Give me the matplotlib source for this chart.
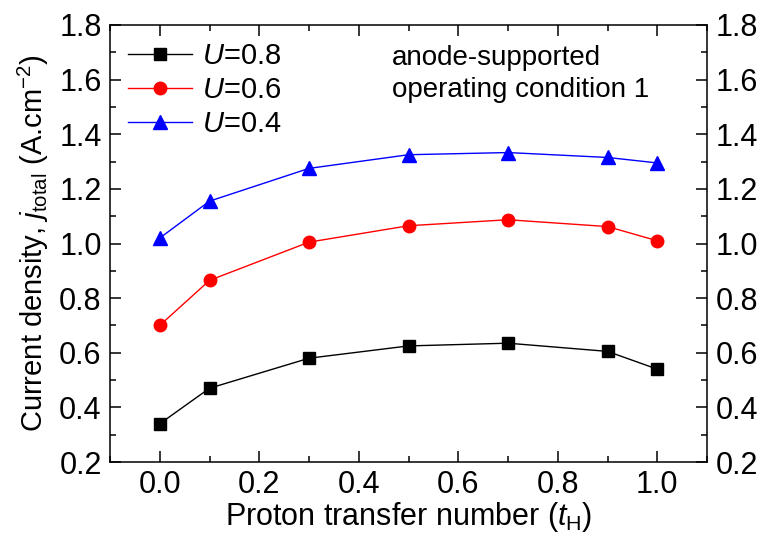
import matplotlib
matplotlib.use('Agg')
from matplotlib import pyplot as plt
from matplotlib.ticker import MultipleLocator

plt.rcParams['font.family'] = ['Liberation Sans', 'DejaVu Sans']
plt.rcParams['mathtext.fontset'] = 'custom'
plt.rcParams['mathtext.rm'] = 'Liberation Sans'
plt.rcParams['mathtext.it'] = 'Liberation Sans:italic'

t_h = [0.0, 0.1, 0.3, 0.5, 0.7, 0.9, 1.0]
u08 = [0.34, 0.47, 0.58, 0.625, 0.635, 0.605, 0.54]
u06 = [0.70, 0.865, 1.005, 1.065, 1.087, 1.062, 1.01]
u04 = [1.02, 1.155, 1.275, 1.325, 1.333, 1.315, 1.295]

fig = plt.figure(figsize=(7.6, 5.4), dpi=100)
ax = fig.add_axes([110 / 760, 1 - 462 / 540, 597 / 760, 437 / 540])

ax.plot(t_h, u08, '-s', color='black', lw=1, ms=8, label=r'$\mathit{U}$=0.8')
ax.plot(t_h, u06, '-o', color='red', lw=1, ms=9, label=r'$\mathit{U}$=0.6')
ax.plot(t_h, u04, '-^', color='blue', lw=1, ms=9.5, label=r'$\mathit{U}$=0.4')

ax.set_xlim(-0.1, 1.1)
ax.set_ylim(0.2, 1.8)
ax.xaxis.set_major_locator(MultipleLocator(0.2))
ax.xaxis.set_minor_locator(MultipleLocator(0.1))
ax.yaxis.set_major_locator(MultipleLocator(0.2))
ax.yaxis.set_minor_locator(MultipleLocator(0.1))
ax.set_xticks([0.0, 0.2, 0.4, 0.6, 0.8, 1.0])
ax.tick_params(which='both', direction='in', top=True, right=True,
               labelright=True, labelsize=22, width=1.1)
ax.tick_params(which='major', length=8, pad=6)
ax.tick_params(which='minor', length=4)
for s in ax.spines.values():
    s.set_linewidth(1.1)

ax.set_xlabel(r'Proton transfer number ($\mathit{t}_{\rm H}$)', fontsize=22, labelpad=0)
ax.set_ylabel(r'Current density, $\mathit{j}_{\rm total}$ (A.cm$^{-2}$)', fontsize=21, labelpad=6)

ax.text(0.472, 0.955, 'anode-supported\noperating condition 1', transform=ax.transAxes,
        fontsize=20, va='top', linespacing=1.3)

ax.legend(loc='upper left', fontsize=21, frameon=False, handlelength=2.2,
          handletextpad=0.35, labelspacing=0.2, borderaxespad=0.2, borderpad=0.4)

fig.savefig('out.png', dpi=100)
